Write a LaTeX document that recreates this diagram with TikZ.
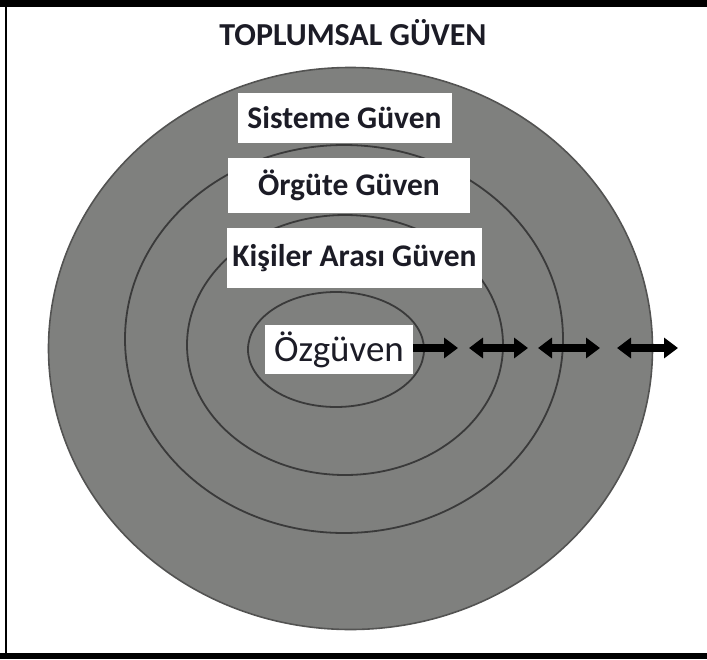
\documentclass[tikz,border=0pt]{standalone}
\usepackage{fontspec}
\setmainfont{Carlito}
\usetikzlibrary{arrows.meta,shapes.geometric}
\definecolor{discfill}{RGB}{127,128,126}
\definecolor{ringline}{RGB}{58,58,58}
\definecolor{inktext}{RGB}{28,28,38}
\tikzset{
  ring/.style={ellipse, draw=ringline, line width=1.8pt, inner sep=0pt},
  label box/.style={fill=white, draw=none, inner sep=0pt, text=inktext,
    font=\bfseries\fontsize{31.5}{36}\selectfont},
  linkarrow/.style={line width=8.5pt, black,
    -{Triangle[length=14pt, width=20pt]}},
  twoway/.style={line width=8.5pt, black,
    {Triangle[length=14pt, width=20pt]}-{Triangle[length=14pt, width=20pt]}},
}
\begin{document}
\begin{tikzpicture}[x=1pt, y=-1pt]
  \useasboundingbox (0,0) rectangle (707,659);
  % frame: heavy top and bottom rules, thin left rule
  \fill[black] (0,0) rectangle (707,7);
  \fill[black] (0,653) rectangle (707,659);
  \fill[black] (5,0) rectangle (7,659);

  % title
  \node[text=inktext, font=\bfseries\fontsize{32}{38}\selectfont] (title) at (353,33) {TOPLUMSAL GÜVEN};

  % nested circles of trust
  \node[ellipse, fill=discfill, draw=discfill!65!black, line width=1.6pt, inner sep=0pt,
        minimum width=604pt, minimum height=562pt] (outer) at (350.5,348.5) {};
  \node[ring, minimum width=438pt, minimum height=388pt] (ringB) at (344,339) {};
  \node[ring, minimum width=316pt, minimum height=260pt] (ringC) at (345,345) {};
  \node[ring, minimum width=176pt, minimum height=115pt] (ringD) at (336,349.5) {};

  % level labels
  \node[label box, minimum width=214pt, minimum height=50pt] (sis) at (344.5,118) {Sisteme Güven};
  \node[label box, minimum width=242pt, minimum height=55pt] (org) at (349,185.5) {Örgüte Güven};
  \node[label box, minimum width=255pt, minimum height=60pt] (kis) at (354.5,258) {Kişiler Arası Güven};
  \node[fill=white, inner sep=0pt, text=inktext, font=\fontsize{37}{42}\selectfont,
        minimum width=148pt, minimum height=49pt] (oz) at (339,349.5) {Özgüven};

  % outward arrows
  \coordinate (a1) at (458,348);
  \coordinate (b0) at (469,348);
  \coordinate (b1) at (528,348);
  \coordinate (c0) at (538,348);
  \coordinate (c1) at (600,348);
  \coordinate (d0) at (617,348);
  \coordinate (d1) at (678,348);
  \draw[linkarrow] (oz.east |- a1) -- (a1);
  \draw[twoway] (b0) -- (b1);
  \draw[twoway] (c0) -- (c1);
  \draw[twoway] (d0) -- (d1);
\end{tikzpicture}
\end{document}
